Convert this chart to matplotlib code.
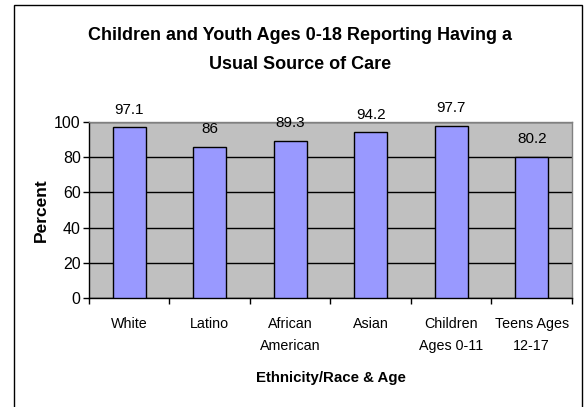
import matplotlib.pyplot as plt
from matplotlib.patches import Rectangle

categories = ['White', 'Latino', 'African\nAmerican', 'Asian',
              'Children\nAges 0-11', 'Teens Ages\n12-17']
values = [97.1, 86, 89.3, 94.2, 97.7, 80.2]
value_labels = ['97.1', '86', '89.3', '94.2', '97.7', '80.2']
y_ticks = [0, 20, 40, 60, 80, 100]

plt.rcParams['font.family'] = ['Liberation Sans', 'DejaVu Sans']

fig = plt.figure(figsize=(5.87, 4.07), dpi=100)
ax = fig.add_axes([0.1516, 0.2686, 0.8228, 0.4309])
ax.set_facecolor('#C0C0C0')

x = list(range(len(categories)))
ax.bar(x, values, width=0.41, color='#9999FF', edgecolor='black', linewidth=1, zorder=3)

for xi, v, lab in zip(x, values, value_labels):
    ax.annotate(lab, (xi, v), xytext=(0, 10), textcoords='offset points',
                ha='center', va='baseline', fontsize=11, annotation_clip=False)

ax.set_xlim(-0.5, len(categories) - 0.5)
ax.set_ylim(0, 100)
ax.set_yticks(y_ticks)
ax.yaxis.grid(True, color='black', linewidth=1, zorder=1)
ax.tick_params(axis='y', labelsize=11.5, length=4, width=1, pad=2)

# ticks on category boundaries, labels in the middle
ax.set_xticks([i - 0.5 for i in range(len(categories) + 1)])
ax.set_xticklabels([])
ax.set_xticks(x, minor=True)
ax.set_xticklabels(categories, minor=True, fontsize=10.3, linespacing=1.72)
ax.tick_params(axis='x', which='major', length=4, width=1)
ax.tick_params(axis='x', which='minor', length=0, pad=14)

for s in ax.spines.values():
    s.set_color('#808080')
    s.set_linewidth(1)
ax.spines['left'].set_color('black')
ax.spines['bottom'].set_color('black')

ax.set_ylabel('Percent', fontsize=12.5, fontweight='bold', labelpad=4)
ax.set_xlabel('Ethnicity/Race & Age', fontsize=10.8, fontweight='bold', labelpad=13)

fig.text(0.511, 1 - 50 / 407, 'Children and Youth Ages 0-18 Reporting Having a\nUsual Source of Care',
         ha='center', va='center', fontsize=13, fontweight='bold', linespacing=1.85)

# chart border
fig.patches.append(Rectangle((14 / 587, -0.02), (582 - 14) / 587, 1.02 - 5 / 407,
                             transform=fig.transFigure, fill=False,
                             edgecolor='black', linewidth=1))

fig.savefig('out.png', dpi=100)
